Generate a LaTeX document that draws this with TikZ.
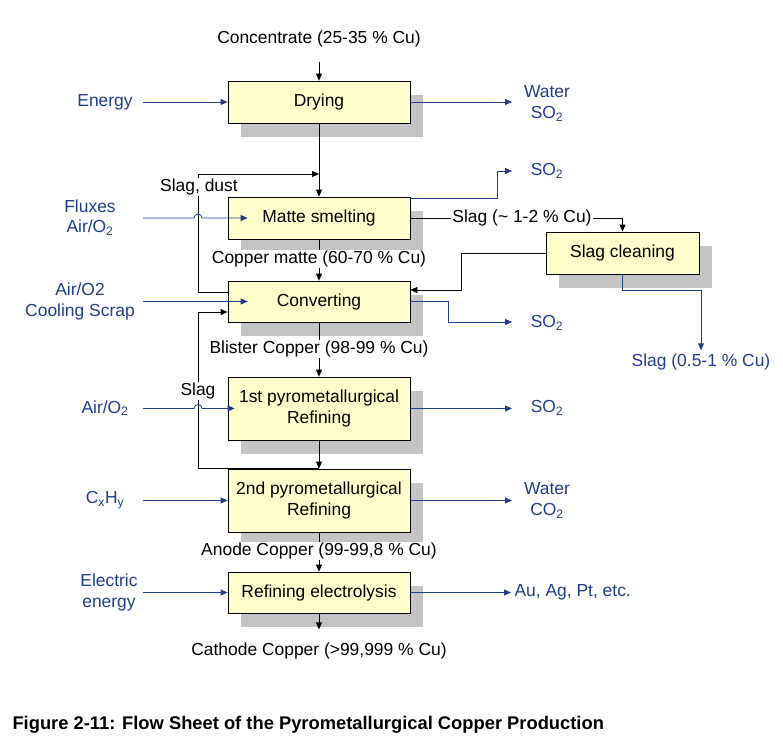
\documentclass[tikz,border=0pt]{standalone}
\usepackage{fontspec}
\setmainfont{Liberation Sans}
\usetikzlibrary{arrows.meta,shadows}

\definecolor{boxfill}{RGB}{255,255,204}
\definecolor{shadegray}{RGB}{196,196,196}
\definecolor{flowblue}{RGB}{31,62,140}

\begin{document}
\begin{tikzpicture}[x=1bp,y=-1bp,
  font=\fontsize{17.5}{21}\selectfont,
  unit/.style={draw, fill=boxfill, line width=0.8bp, minimum width=182bp, minimum height=42bp,
    align=center, inner sep=2bp,
    drop shadow={shadow xshift=13bp, shadow yshift=-14bp, fill=shadegray, opacity=1}},
  blue text/.style={text=flowblue, align=center},
  lbl/.style={fill=white, inner sep=1bp},
  flow/.style={line width=0.8bp, -{Triangle[length=7bp,width=6bp]}},
  bflow/.style={flow, draw=flowblue}]

\useasboundingbox (0,0) rectangle (783,750);

% process units
\node[unit] (dry) at (319,102) {Drying};
\node[unit] (smelt) at (319,218) {Matte smelting};
\node[unit, minimum height=41bp] (conv) at (319,301.5) {Converting};
\node[unit, minimum height=63bp] (ref1) at (319,408.5) {1st pyrometallurgical\\Refining};
\node[unit, minimum height=63bp] (ref2) at (319,500.5) {2nd pyrometallurgical\\Refining};
\node[unit, minimum height=41bp] (elec) at (319,592.5) {Refining electrolysis};
\node[unit, minimum width=153bp] (slagcl) at (622.5,253) {Slag cleaning};

% inputs and outputs
\node (conc) at (319,39) {Concentrate (25-35 \% Cu)};
\node[blue text] (energy) at (105,102) {Energy};
\node[blue text] (out1) at (547,103.5) {Water\\SO\textsubscript{2}};
\node[blue text] (fluxes) at (90,217.5) {Fluxes\\Air/O\textsubscript{2}};
\node[blue text] (out2) at (547,171) {SO\textsubscript{2}};
\node[blue text] (scrap) at (80,301.5) {Air/O2\\Cooling Scrap};
\node[blue text] (out3) at (547,323) {SO\textsubscript{2}};
\node[blue text] (slagout) at (701,362) {Slag (0.5-1 \% Cu)};
\node[blue text] (air) at (105,408) {Air/O\textsubscript{2}};
\node[blue text] (out4) at (547,408) {SO\textsubscript{2}};
\node[blue text] (cxhy) at (105,500) {C\textsubscript{x}H\textsubscript{y}};
\node[blue text] (out5) at (547,500.5) {Water\\CO\textsubscript{2}};
\node[blue text] (power) at (109,592.5) {Electric\\energy};
\node[blue text, anchor=west] (metals) at (511,592.5) {Au, Ag, Pt, etc.};
\node (cathode) at (319,651) {Cathode Copper (>99,999 \% Cu)};
\node[anchor=west, font=\fontsize{18.4}{21}\selectfont\bfseries] (caption) at (9,725)
  {Figure 2-11: Flow Sheet of the Pyrometallurgical Copper Production};

\coordinate (ix) at (143,0);
\coordinate (ox) at (512,0);
\coordinate (lx) at (198,174);
\coordinate (ly) at (198,312);
\coordinate (bx) at (497,171);
\coordinate (sx) at (461,290);
\coordinate (cx) at (448,322);
\coordinate (sy) at (701,290);

% main flow
\draw[flow] ([yshift=-11bp]conc.south) -- (dry.north);
\draw[flow] (dry.south) -- (smelt.north);
\draw[flow] (smelt.south) -- (conv.north);
\draw[flow] (conv.south) -- (ref1.north);
\draw[flow] (ref1.south) -- (ref2.north);
\draw[flow] (ref2.south) -- (elec.north);
\draw[flow] (elec.south) -- ([yshift=10bp]cathode.north);

% recycling
\draw[flow] ([yshift=9.5bp]conv.west) -| (lx) -- (lx -| dry.south);
\draw[flow] (smelt.east) -| (slagcl.north);
\draw[flow] (slagcl.west) -| (sx) -- (sx -| conv.east);
\draw[flow] (ref2.north) -| (ly) -- (ly -| conv.west);

% inputs
\draw[bflow] (energy -| ix) -- (dry.west);
\draw[bflow] (smelt -| ix) -- ([xshift=-4bp]smelt -| lx) arc[start angle=180, end angle=0, radius=4bp] -- ([xshift=20bp]smelt.west);
\draw[bflow] (conv -| ix) -- ([xshift=20bp]conv.west);
\draw[bflow] (ref1 -| ix) -- ([xshift=-4bp]ref1 -| ly) arc[start angle=180, end angle=0, radius=4bp] -- ([xshift=7bp]ref1.west);
\draw[bflow] (ref2 -| ix) -- (ref2.west);
\draw[bflow] (elec -| ix) -- (elec.west);

% outputs
\draw[bflow] (dry.east) -- (dry.east -| ox);
\draw[bflow] ([yshift=-2bp]smelt.north east) -| (bx) -- (bx -| ox);
\draw[bflow] (conv.east) -| (cx) -- (cx -| ox);
\draw[bflow] (slagcl.south) |- (sy) -- (sy |- slagout.north);
\draw[bflow] (ref1.east) -- (ref1.east -| ox);
\draw[bflow] (ref2.east) -- (ref2.east -| ox);
\draw[bflow] (elec.east) -- (metals.west);

% labels on the lines
\node[lbl] (slagdust) at (199,187) {Slag, dust};
\node[lbl] (slagsm) at (522,218) {Slag (\textasciitilde{} 1-2 \% Cu)};
\node[lbl] (matte) at (319,259) {Copper matte (60-70 \% Cu)};
\node[lbl] (blister) at (319,349) {Blister Copper (98-99 \% Cu)};
\node[lbl] (slag2) at (198,391) {Slag};
\node[lbl] (anode) at (319,551) {Anode Copper (99-99,8 \% Cu)};

\end{tikzpicture}
\end{document}
